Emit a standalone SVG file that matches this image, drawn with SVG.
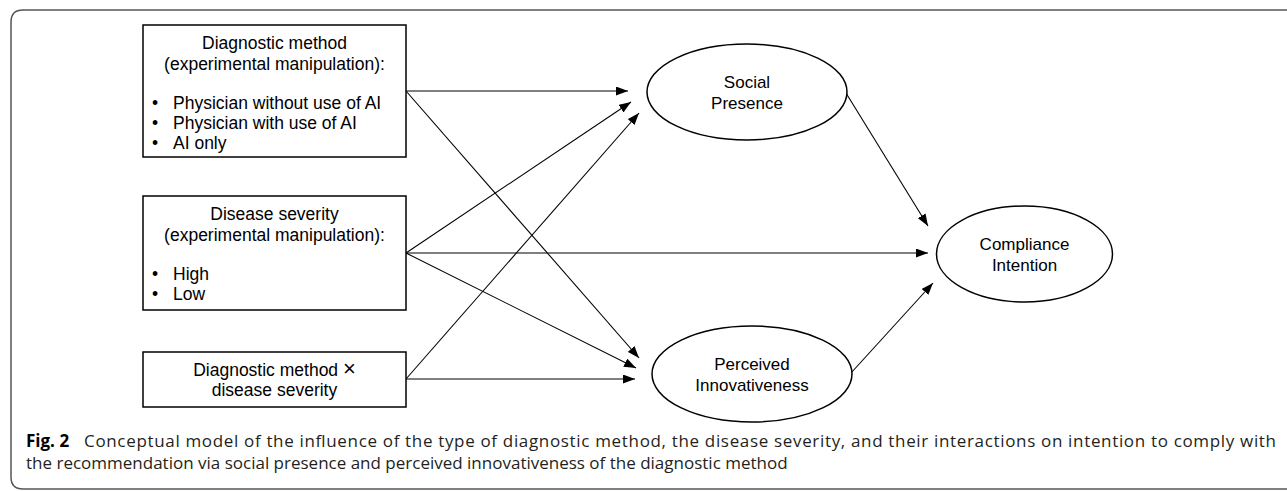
<svg xmlns="http://www.w3.org/2000/svg" width="1287" height="491" viewBox="0 0 1287 491">
<defs>
<marker id="ah" markerUnits="userSpaceOnUse" markerWidth="12" markerHeight="9" refX="12" refY="4.5" orient="auto">
<path d="M0,0 L12,4.5 L0,9 z" fill="#000"/>
</marker>
<style>
.box{fill:#fff;stroke:#000;stroke-width:1.5}
.ell{fill:#fff;stroke:#000;stroke-width:1.5}
.t{font-family:"Liberation Sans",Arial,sans-serif;font-size:17.5px;fill:#000}
.c{text-anchor:middle}
.e{font-family:"Liberation Sans",Arial,sans-serif;font-size:17px;fill:#000;text-anchor:middle}
.edge{stroke:#000;stroke-width:1.1;fill:none;marker-end:url(#ah)}
.cap{font-family:"Open Sans","Noto Sans",sans-serif;font-size:17px;fill:#231f20}
</style>
</defs>
<path d="M1300,10 H23 Q11,10 11,22 V477 Q11,489 23,489 H1300" fill="none" stroke="#555" stroke-width="1.5"/>
<g id="connectors">
<line class="edge" x1="406" y1="91" x2="628" y2="91"/>
<line class="edge" x1="406" y1="91" x2="639" y2="358"/>
<line class="edge" x1="406" y1="253" x2="631" y2="102"/>
<line class="edge" x1="406" y1="253" x2="928" y2="253"/>
<line class="edge" x1="406" y1="253" x2="636" y2="368"/>
<line class="edge" x1="406" y1="379" x2="639" y2="113"/>
<line class="edge" x1="406" y1="379" x2="635" y2="379"/>
<line class="edge" x1="846" y1="93" x2="928" y2="226"/>
<line class="edge" x1="851" y1="373" x2="933" y2="283"/>
</g>
<g id="node-diagnostic-method">
<rect class="box" x="143" y="25" width="263" height="132"/>
<text class="t c" x="274.5" y="49">Diagnostic method</text>
<text class="t c" x="274.5" y="70">(experimental manipulation):</text>
<text class="t" x="152" y="109">•</text><text class="t" x="173" y="109">Physician without use of AI</text>
<text class="t" x="152" y="129">•</text><text class="t" x="173" y="129">Physician with use of AI</text>
<text class="t" x="152" y="149">•</text><text class="t" x="173" y="149">AI only</text>
</g>
<g id="node-disease-severity">
<rect class="box" x="143" y="196" width="263" height="114"/>
<text class="t c" x="274.5" y="220">Disease severity</text>
<text class="t c" x="274.5" y="241">(experimental manipulation):</text>
<text class="t" x="152" y="280">•</text><text class="t" x="173" y="280">High</text>
<text class="t" x="152" y="300">•</text><text class="t" x="173" y="300">Low</text>
</g>
<g id="node-interaction">
<rect class="box" x="143" y="352" width="263" height="55"/>
<text class="t c" x="274.5" y="375.5">Diagnostic method <tspan font-size="22px">×</tspan></text>
<text class="t c" x="274.5" y="396">disease severity</text>
</g>
<g id="node-social-presence">
<ellipse class="ell" cx="747" cy="92" rx="100" ry="48"/>
<text class="e" x="747" y="88">Social</text>
<text class="e" x="747" y="109">Presence</text>
</g>
<g id="node-perceived-innovativeness">
<ellipse class="ell" cx="752" cy="374" rx="100" ry="48"/>
<text class="e" x="752" y="370">Perceived</text>
<text class="e" x="752" y="391">Innovativeness</text>
</g>
<g id="node-compliance-intention">
<ellipse class="ell" cx="1024.5" cy="254" rx="88" ry="48"/>
<text class="e" x="1024.5" y="250">Compliance</text>
<text class="e" x="1024.5" y="271">Intention</text>
</g>
<g id="caption">
<text class="cap" x="26" y="447" style="font-weight:bold;fill:#000">Fig. 2</text>
<text class="cap" x="84" y="447" textLength="1192" lengthAdjust="spacing">Conceptual model of the influence of the type of diagnostic method, the disease severity, and their interactions on intention to comply with</text>
<text class="cap" x="26" y="469">the recommendation via social presence and perceived innovativeness of the diagnostic method</text>
</g>
</svg>
